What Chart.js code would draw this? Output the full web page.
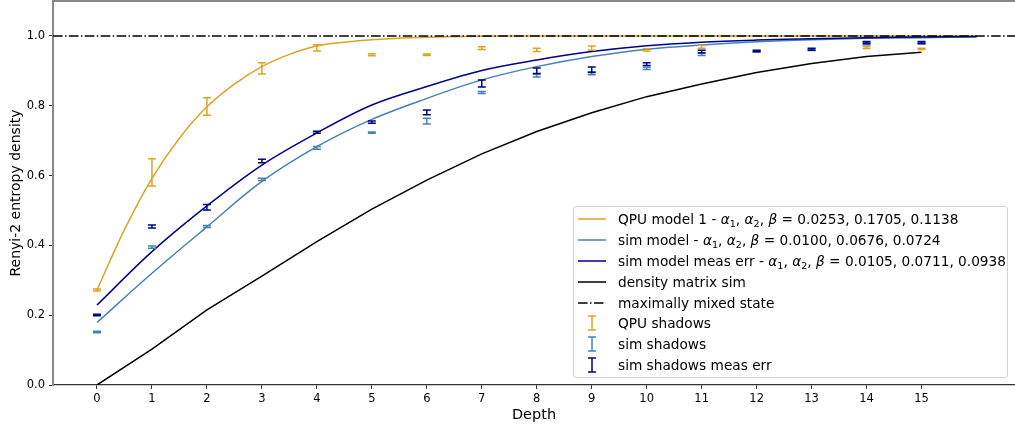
<!DOCTYPE html>
<html>
<head>
<meta charset="utf-8">
<script src="https://cdn.jsdelivr.net/npm/chart.js@4.4.0/dist/chart.umd.min.js"></script>
<style>
body{margin:0;background:#fff;font-family:"DejaVu Sans",sans-serif}
#wrap{position:relative;width:1015px;height:427px;overflow:hidden}
#legend{position:absolute;left:573px;top:206px;width:435px;height:172px;box-sizing:border-box;border:1px solid #d3d3d3;border-radius:3px;background:rgba(255,255,255,.8);font-size:13.7px;color:#000;padding:2px 0 0 3px}
.row{height:20.8px;display:flex;align-items:center;white-space:nowrap}
.row svg{flex:none;margin-right:11px}
sub{font-size:70%;vertical-align:-0.3em;line-height:0}
</style>
</head>
<body>
<div id="wrap"><canvas id="c" width="1015" height="427"></canvas><div id="legend"></div></div>
<script>
// depths
const depths=[0,1,2,3,4,5,6,7,8,9,10,11,12,13,14,15]
const modelDepths=[0,1,2,3,4,5,6,7,8,9,10,11,12,13,14,15,16]
const qpuModelDepths=[0,0.5,1,1.5,2,2.5,3,3.5,4,4.5,5,6,7,8,9,10,11,12,13,14,15,16]

// fitted models
const qpuModel=[0.272,0.445,0.592,0.707,0.797,0.862,0.912,0.947,0.971,0.982,0.989,0.996,0.999,1,1,1,1,1,1,1,1,1]
const simModel=[0.179,0.320,0.453,0.583,0.683,0.761,0.821,0.874,0.912,0.941,0.962,0.974,0.983,0.989,0.993,0.995,0.997]
const measModel=[0.229,0.382,0.513,0.630,0.722,0.802,0.855,0.901,0.931,0.955,0.972,0.982,0.988,0.992,0.995,0.997,0.998]
const densitySim=[0,0.103,0.215,0.312,0.411,0.504,0.587,0.662,0.726,0.780,0.826,0.862,0.895,0.921,0.941,0.953]
const mixedState=1.0

// shadow estimates + half error
const qpuShadows=[0.272,0.609,0.798,0.907,0.966,0.946,0.946,0.965,0.960,0.965,0.960,0.969,null,null,0.967,0.963]
const qpuErr=[0.003,0.039,0.025,0.016,0.009,0.003,0.002,0.004,0.005,0.006,0.003,0.004,null,null,0.003,0.002]
const simShadows=[0.152,0.395,0.454,0.589,0.679,0.723,0.756,0.838,0.886,0.893,0.907,0.948,0.955,0.960,0.978,0.979]
const simErr=[0.002,0.003,0.003,0.003,0.004,0.002,0.008,0.003,0.004,0.004,0.003,0.004,0.002,0.002,0.003,0.002]
const measShadows=[0.2006,0.454,0.509,0.642,0.724,0.753,0.781,0.864,0.900,0.903,0.919,0.955,0.957,0.962,0.981,0.981]
const measErr=[0.002,0.004,0.008,0.005,0.003,0.003,0.007,0.010,0.008,0.008,0.004,0.004,0.002,0.003,0.003,0.003]

const xTicks=[0,1,2,3,4,5,6,7,8,9,10,11,12,13,14,15]
const yTicks=[0,0.2,0.4,0.6,0.8,1.0]
const xMin=-0.8,xMax=16.7,yMin=0,yMax=1.1

const ab='<i>α</i><sub>1</sub>, <i>α</i><sub>2</sub>, <i>β</i>'
const legendLabels=[
  'QPU model 1 - '+ab+' = 0.0253, 0.1705, 0.1138',
  'sim model - '+ab+' = 0.0100, 0.0676, 0.0724',
  'sim model meas err - '+ab+' = 0.0105, 0.0711, 0.0938',
  'density matrix sim',
  'maximally mixed state',
  'QPU shadows',
  'sim shadows',
  'sim shadows meas err'
]

const gold='#DAA520',steel='#4682B4',dblue='#00008B'

const pts=(xs,ys)=>xs.map((x,i)=>({x,y:ys[i]}))
const line=(data,color,order,extra)=>Object.assign({data,borderColor:color,borderWidth:1.5,showLine:true,pointRadius:0,fill:false,order},extra||{})
const bars=(data,err,color)=>({data,err,borderColor:color,backgroundColor:color,pointRadius:0,showLine:false,order:0})

const errorBars={id:'errorBars',afterDatasetsDraw(chart){
  const {ctx,scales:{x,y}}=chart
  chart.data.datasets.forEach(ds=>{
    if(!ds.err)return
    ctx.save();ctx.strokeStyle=ds.borderColor;ctx.lineWidth=1.5
    ds.data.forEach((p,i)=>{
      if(p.y==null)return
      const px=x.getPixelForValue(p.x),lo=y.getPixelForValue(p.y-ds.err[i]),hi=y.getPixelForValue(p.y+ds.err[i])
      ctx.beginPath()
      ctx.moveTo(px,lo);ctx.lineTo(px,hi)
      ctx.moveTo(px-4,lo);ctx.lineTo(px+4,lo)
      ctx.moveTo(px-4,hi);ctx.lineTo(px+4,hi)
      ctx.stroke()
    })
    ctx.restore()
  })
}}

const topSpine={id:'topSpine',afterDraw(chart){
  const {ctx,chartArea:a}=chart
  ctx.save();ctx.strokeStyle='#888';ctx.lineWidth=2
  ctx.beginPath();ctx.moveTo(a.left-1,a.top);ctx.lineTo(a.right,a.top);ctx.stroke()
  ctx.restore()
}}

Chart.defaults.font.family='"DejaVu Sans", sans-serif'
Chart.defaults.color='#000'

new Chart(document.getElementById('c'),{
  type:'scatter',
  data:{datasets:[
    line(pts(qpuModelDepths,qpuModel),gold,6,{tension:0.35}),
    line(pts(modelDepths,simModel),steel,5,{tension:0.35}),
    line(pts(modelDepths,measModel),dblue,4,{tension:0.35}),
    line(pts(depths,densitySim),'#000',3),
    line([{x:xMin,y:mixedState},{x:xMax,y:mixedState}],'#000',2,{borderDash:[9.6,2.4,1.5,2.4]}),
    bars(pts(depths,qpuShadows),qpuErr,gold),
    bars(pts(depths,simShadows),simErr,steel),
    bars(pts(depths,measShadows),measErr,dblue)
  ]},
  options:{
    responsive:false,animation:false,
    layout:{padding:{top:1,right:0,left:0,bottom:0}},
    plugins:{legend:{display:false},tooltip:{enabled:false}},
    scales:{
      x:{type:'linear',min:xMin,max:xMax,
        afterBuildTicks:s=>{s.ticks=xTicks.map(v=>({value:v}))},
        afterFit:s=>{s.height=42;s.paddingLeft=0;s.paddingRight=0},
        grid:{display:true,drawOnChartArea:false,drawTicks:true,tickLength:4,color:'#333'},
        border:{display:true,color:'#333',width:1.3},
        ticks:{font:{size:11.5},padding:3,maxRotation:0,callback:v=>String(v)},
        title:{display:true,text:'Depth',font:{size:14.5},padding:{top:0,bottom:3}}
      },
      y:{min:yMin,max:yMax,
        afterBuildTicks:s=>{s.ticks=yTicks.map(v=>({value:v}))},
        afterFit:s=>{s.width=53;s.paddingTop=0;s.paddingBottom=0},
        grid:{display:true,drawOnChartArea:false,drawTicks:true,tickLength:4,color:'#333'},
        border:{display:true,color:'#888',width:2},
        ticks:{font:{size:11.5},padding:4,callback:v=>v.toFixed(1)},
        title:{display:true,text:'Renyi-2 entropy density',font:{size:14},padding:{top:8,bottom:0}}
      }
    }
  },
  plugins:[errorBars,topSpine]
})

// legend
const lineIcon=(c,dash)=>`<svg width="30" height="10"><line x1="1" y1="5" x2="29" y2="5" stroke="${c}" stroke-width="1.5" ${dash?'stroke-dasharray="9.6,2.4,1.5,2.4"':''}/></svg>`
const barIcon=c=>`<svg width="30" height="18"><g stroke="${c}" stroke-width="1.5"><line x1="15" y1="2" x2="15" y2="16"/><line x1="11" y1="2" x2="19" y2="2"/><line x1="11" y1="16" x2="19" y2="16"/></g></svg>`
const icons=[lineIcon(gold),lineIcon(steel),lineIcon(dblue),lineIcon('#000'),lineIcon('#000',true),barIcon(gold),barIcon(steel),barIcon(dblue)]
document.getElementById('legend').innerHTML=legendLabels.map((t,i)=>`<div class="row">${icons[i]}<span>${t}</span></div>`).join('')
</script>
</body>
</html>
